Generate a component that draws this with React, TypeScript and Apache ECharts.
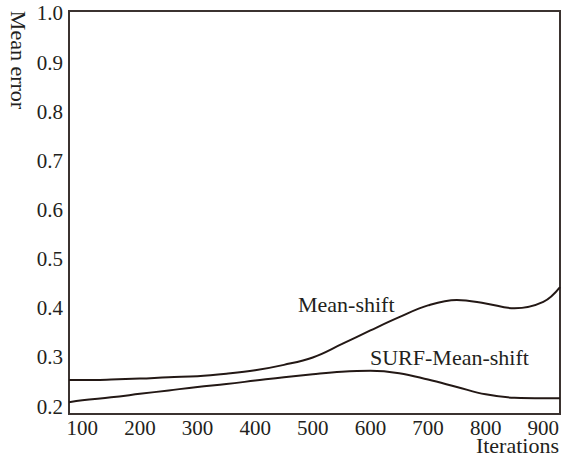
import React, { useEffect, useRef } from "react";
import * as echarts from "echarts";

const iterations = [77, 100, 150, 200, 250, 300, 350, 400, 450, 500, 550, 600, 650, 700, 750, 800, 850, 900, 929];
const meanShift = [0.254, 0.254, 0.255, 0.257, 0.26, 0.262, 0.267, 0.274, 0.285, 0.3, 0.327, 0.355, 0.382, 0.406, 0.417, 0.41, 0.4, 0.413, 0.443];
const surfMeanShift = [0.209, 0.213, 0.219, 0.226, 0.233, 0.24, 0.246, 0.253, 0.26, 0.266, 0.271, 0.273, 0.268, 0.255, 0.24, 0.225, 0.218, 0.217, 0.217];
const xTicks = [100, 200, 300, 400, 500, 600, 700, 800, 900];
const yTicks = [0.2, 0.3, 0.4, 0.5, 0.6, 0.7, 0.8, 0.9, 1.0];
const seriesNames = ["Mean-shift", "SURF-Mean-shift"];

const FONT = "Liberation Serif";
const TXT = "#231f20";
const LINE = "#231815";
const AXIS = "#3b3330";

export default function App() {
  const ref = useRef<HTMLDivElement>(null);
  useEffect(() => {
    if (!ref.current) return;
    const chart = echarts.init(ref.current, undefined, { renderer: "svg" });
    const toPairs = (ys: number[]) => iterations.map((x, i) => [x, ys[i]]);
    chart.setOption({
      animation: false,
      backgroundColor: "#ffffff",
      grid: {
        left: 69,
        right: 8,
        top: 11,
        bottom: 47,
        show: true,
        borderColor: AXIS,
        borderWidth: 2,
        backgroundColor: "transparent",
      },
      xAxis: {
        type: "value",
        min: 77,
        max: 929,
        splitLine: { show: false },
        axisTick: { show: false },
        axisLine: { show: true, lineStyle: { color: AXIS, width: 2 } },
        axisLabel: {
          customValues: xTicks,
          margin: 7,
          lineHeight: 14,
          color: TXT,
          fontFamily: FONT,
          fontSize: 21,
        },
      },
      yAxis: {
        type: "value",
        min: 0.185,
        max: 1.005,
        splitLine: { show: false },
        axisTick: { show: false },
        axisLine: { show: true, lineStyle: { color: AXIS, width: 2 } },
        axisLabel: {
          customValues: yTicks,
          margin: 6,
          color: TXT,
          fontFamily: FONT,
          fontSize: 21,
          formatter: (v: number) => v.toFixed(1),
        },
      },
      series: [
        {
          name: seriesNames[0],
          type: "line",
          smooth: 0.4,
          showSymbol: false,
          data: toPairs(meanShift),
          lineStyle: { color: LINE, width: 2 },
        },
        {
          name: seriesNames[1],
          type: "line",
          smooth: 0.4,
          showSymbol: false,
          data: toPairs(surfMeanShift),
          lineStyle: { color: LINE, width: 2 },
        },
      ],
      graphic: [
        {
          type: "text",
          x: 18,
          y: 60,
          rotation: -Math.PI / 2,
          style: {
            text: "Mean error",
            fill: TXT,
            fontFamily: FONT,
            fontSize: 22,
            align: "center",
            verticalAlign: "middle",
          },
        },
        {
          type: "text",
          x: 298,
          y: 304,
          style: {
            text: seriesNames[0],
            fill: TXT,
            fontFamily: FONT,
            fontSize: 22,
            align: "left",
            verticalAlign: "middle",
          },
        },
        {
          type: "text",
          x: 370,
          y: 357,
          style: {
            text: seriesNames[1],
            fill: TXT,
            fontFamily: FONT,
            fontSize: 22,
            align: "left",
            verticalAlign: "middle",
          },
        },
        {
          type: "text",
          x: 559,
          y: 445,
          style: {
            text: "Iterations",
            fill: TXT,
            fontFamily: FONT,
            fontSize: 22,
            lineHeight: 14,
            align: "right",
            verticalAlign: "middle",
          },
        },
      ],
    });
    return () => chart.dispose();
  }, []);
  return (
    <div
      ref={ref}
      style={{ position: "fixed", left: 0, top: 0, width: 568, height: 461 }}
    />
  );
}
